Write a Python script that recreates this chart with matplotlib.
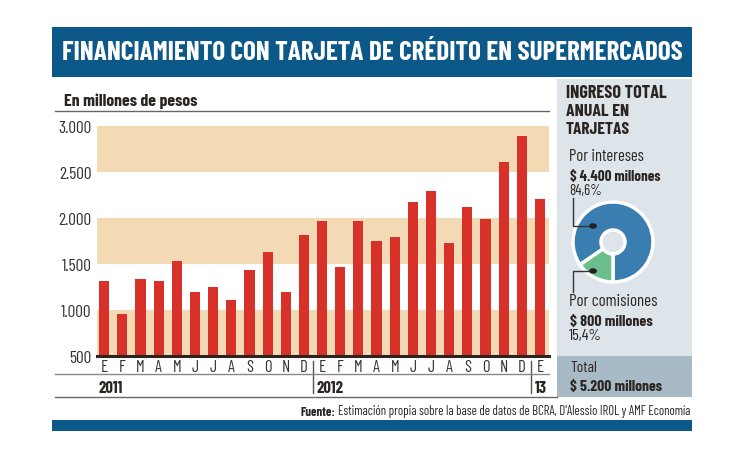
import matplotlib
matplotlib.use("Agg")
import matplotlib.pyplot as plt
from matplotlib.patches import Rectangle, Circle
from matplotlib.lines import Line2D

# Data
months = ["E", "F", "M", "A", "M", "J", "J", "A", "S", "O", "N", "D"] * 2 + ["E"]
values = [1315, 955, 1340, 1315, 1530, 1190, 1250, 1110, 1435, 1625, 1190, 1810,
          1960, 1465, 1965, 1745, 1795, 2170, 2285, 1725, 2115, 1990, 2600, 2890,
          2205]
years = ["2011", "2012", "13"]
year_start = [0, 12, 24]
yticks = [500, 1000, 1500, 2000, 2500, 3000]
ytick_labels = ["500", "1.000", "1.500", "2.000", "2.500", "3.000"]
bands = [(500, 1000), (1500, 2000), (2500, 3000)]
pie_shares = [84.6, 15.4]
pie_colors = ["#3a7db0", "#6cbf8c"]

plt.rcParams["font.family"] = ["Barlow Condensed", "DejaVu Sans"]

W, H = 730, 460
BLUE = "#0c5889"
RED = "#d7312a"
TAN = "#f4dab4"
DARK = "#2b2522"


def fx(px):
    return px / W


def fy(py):
    return 1 - py / H


fig = plt.figure(figsize=(W / 100, H / 100), dpi=100)
to_fit = []


def rect(x0, y0, x1, y1, color):
    fig.patches.append(Rectangle((fx(x0), fy(y1)), fx(x1) - fx(x0), fy(y0) - fy(y1),
                                 transform=fig.transFigure, color=color, lw=0, zorder=-1))


def line(xs, ys, color="#555555", lw=1.0):
    fig.lines.append(Line2D([fx(x) for x in xs], [fy(y) for y in ys],
                            transform=fig.transFigure, color=color, lw=lw, zorder=3))


def text(x, y, s, size=10, weight="normal", color=DARK, ha="left", width=None):
    t = fig.text(fx(x), fy(y), s, fontsize=size, fontweight=weight, color=color,
                 ha=ha, va="center")
    if width:
        to_fit.append((t, width))
    return t


# title bar, side panel, bottom bar
rect(52, 28, 692, 78, BLUE)
rect(557, 80, 692, 357, "#dde4ea")
rect(557, 357, 692, 398, "#a9bac7")
rect(52, 421, 692, 432, BLUE)
text(372, 53, "FINANCIAMIENTO CON TARJETA DE CRÉDITO EN SUPERMERCADOS",
     size=20, weight="bold", color="white", ha="center", width=621)

# subtitle and rules
text(64, 101, "En millones de pesos", size=12, weight="bold", width=134)
line([55, 549], [112, 112], "#666666", 1.0)
line([55, 549], [375, 375], "#888888", 1.0)
line([55, 557], [398, 398], "#666666", 1.0)

# bar chart
ax = fig.add_axes([fx(97), fy(357), fx(549) - fx(97), fy(126.5) - fy(357)])
x = list(range(len(values)))
for lo, hi in bands:
    ax.axhspan(lo, hi, color=TAN, lw=0, zorder=0)
ax.bar(x, [v - 500 for v in values], bottom=500, width=0.56, color=RED, zorder=2)
ax.set_xlim(-0.4, 24.5)
ax.set_ylim(500, 3000)
for s in ax.spines.values():
    s.set_visible(False)
ax.axhline(500, color=DARK, lw=2.2, zorder=3, clip_on=False)
ax.set_xticks([])
ax.set_yticks(yticks)
ax.set_yticklabels(ytick_labels, fontsize=12.5, color="#333333")
ax.tick_params(axis="y", length=0, pad=4)

tr = ax.get_xaxis_transform()
for i, m in enumerate(months):
    ax.text(i, -0.045, m, transform=tr, ha="center", va="center", fontsize=12,
            color="#333333")
for yr, st in zip(years, year_start):
    ax.text(st - 0.3, -0.135, yr, transform=tr, ha="left", va="center", fontsize=12,
            fontweight="bold", color=DARK)
for sep in [11.5, 23.5]:
    ax.plot([sep, sep], [-0.02, -0.16], transform=tr, color="#555555", lw=1.0,
            clip_on=False)

# side panel texts
text(566, 93, "INGRESO TOTAL", size=12.5, weight="bold", width=101)
text(566, 111, "ANUAL EN", size=12.5, weight="bold", width=63)
text(566, 129, "TARJETAS", size=12.5, weight="bold", width=64)
text(569, 157, "Por intereses", size=11.5, width=75)
text(570, 177, "$ 4.400 millones", size=10.5, weight="bold", width=90)
text(569, 191, "84,6%", size=10, width=33)
text(569, 302, "Por comisiones", size=11.5, width=88)
text(570, 322, "$ 800 millones", size=10.5, weight="bold", width=82)
text(569, 336, "15,4%", size=10, width=33)
text(570, 368, "Total", size=12, width=27)
text(570, 387, "$ 5.200 millones", size=12, weight="bold", width=92)

# donut
r_px = 43
pax = fig.add_axes([fx(613 - r_px), fy(243 + r_px), 2 * r_px / W, 2 * r_px / H])
pax.pie(pie_shares, colors=pie_colors, startangle=270, counterclock=True,
        radius=1.0, wedgeprops=dict(width=0.7, edgecolor="white", linewidth=2.5))
pax.set_xlim(-1.075, 1.075)
pax.set_ylim(-1.075, 1.075)
pax.set_aspect("equal")
pax.axis("off")

# leader lines
line([573, 573, 593], [199, 227, 227], "#333333", 1.0)
line([593, 573, 573], [272, 272, 293], "#333333", 1.0)
for cy in [227, 272]:
    fig.patches.append(Circle((fx(593), fy(cy)), 3.2 / W, transform=fig.transFigure,
                              color="#222222", zorder=5))

# footer
src = text(690, 412, "Estimación propia sobre la base de datos de BCRA, D'Alessio IROL y AMF Economía",
           size=8.5, ha="right", width=355)

# scale texts to the widths they have in the reference
fig.canvas.draw()
for t, w in to_fit:
    cur = t.get_window_extent().width
    t.set_fontsize(t.get_fontsize() * w / cur)
fig.canvas.draw()
bb = src.get_window_extent()
fig.text(bb.x0 / W - 2 / W, fy(412), "Fuente:", fontsize=src.get_fontsize(),
         fontweight="bold", color=DARK, ha="right", va="center")

fig.savefig("out.png", dpi=100)
